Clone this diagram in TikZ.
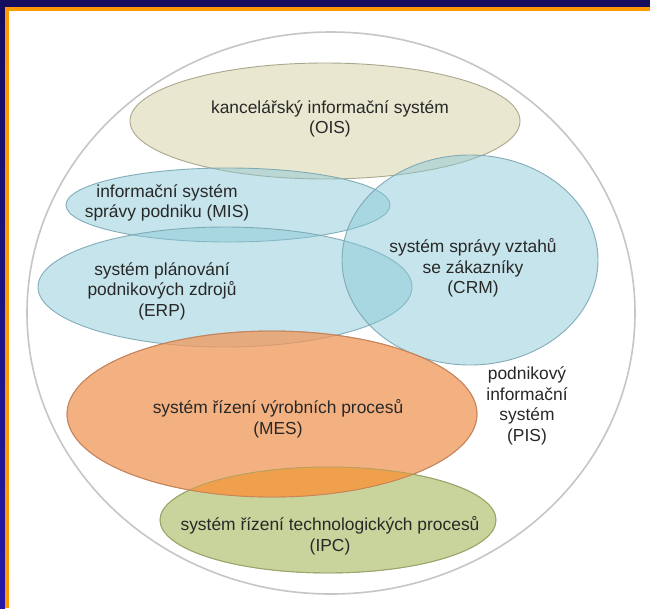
\documentclass[tikz,border=0pt]{standalone}
\usepackage{fontspec}
\setmainfont{Liberation Sans}
\definecolor{navytop}{RGB}{21,13,94}
\definecolor{navybot}{RGB}{36,26,168}
\definecolor{frameorange}{RGB}{255,153,0}
\definecolor{ringgray}{RGB}{198,198,198}
\definecolor{labelgray}{RGB}{40,40,40}
\definecolor{oisfill}{RGB}{233,231,208}
\definecolor{oisedge}{RGB}{170,168,140}
\definecolor{setblue}{RGB}{136,199,215}
\definecolor{blueedge}{RGB}{120,165,178}
\definecolor{mesfill}{RGB}{240,151,89}
\definecolor{mesedge}{RGB}{196,130,90}
\definecolor{ipcfill}{RGB}{200,212,156}
\definecolor{ipcedge}{RGB}{150,164,104}
\definecolor{mixorange}{RGB}{240,160,76}
\begin{document}
\begin{tikzpicture}[x=1pt,y=-1pt,
  lbl/.style={align=center, text=labelgray, inner sep=0pt,
    font=\fontsize{17.4}{20.5}\selectfont},
  edge/.style={line width=0.9pt},
  oisset/.style={edge, fill=oisfill, draw=oisedge},
  blueset/.style={edge, fill=setblue, fill opacity=0.48, draw=blueedge, draw opacity=0.9},
  ipcset/.style={edge, fill=ipcfill, draw=ipcedge},
  messet/.style={edge, fill=mesfill, fill opacity=0.75, draw=mesedge, draw opacity=0.85}]

% page and frame
\useasboundingbox (0,0) rectangle (650,608);
\fill[white] (0,0) rectangle (650,608);
\shade[top color=navytop, bottom color=navybot] (0,0) rectangle (5,608);
\fill[navytop] (0,0) rectangle (650,7);
\fill[frameorange] (5,7) rectangle (650,11);
\fill[frameorange] (5,7) rectangle (8.5,608);

% enterprise information system (outer set)
\draw[ringgray, line width=1.6pt] (331,313) ellipse [x radius=304, y radius=281];

% subsystems
\path[oisset]  (325,121) ellipse [x radius=195, y radius=58];
\path[blueset] (228,205) ellipse [x radius=162, y radius=37];
\path[blueset] (225,287) ellipse [x radius=187, y radius=60];
\path[blueset] (470,260) ellipse [x radius=128, y radius=105];
\path[ipcset]  (328,520) ellipse [x radius=168, y radius=53];
\path[messet]  (272,414) ellipse [x radius=205, y radius=83];

% MES and IPC overlap
\begin{scope}
  \clip (328,520) ellipse [x radius=168, y radius=53];
  \fill[mixorange] (272,414) ellipse [x radius=205, y radius=83];
\end{scope}
\draw[ipcedge, edge, draw opacity=0.6] (328,520) ellipse [x radius=168, y radius=53];
\draw[mesedge, edge, draw opacity=0.85] (272,414) ellipse [x radius=205, y radius=83];

% labels
\node[lbl] (ois) at (330,119) {kancelářský informační systém\\(OIS)};
\node[lbl] (mis) at (167,203) {informační systém\\správy podniku (MIS)};
\node[lbl] (erp) at (162,291) {systém plánování\\podnikových zdrojů\\(ERP)};
\node[lbl] (crm) at (473,268) {systém správy vztahů\\se zákazníky\\(CRM)};
\node[lbl] (mes) at (278,419) {systém řízení výrobních procesů\\(MES)};
\node[lbl] (ipc) at (330,536) {systém řízení technologických procesů\\(IPC)};
\node[lbl] (pis) at (527,406) {podnikový\\informační\\systém\\(PIS)};
\end{tikzpicture}
\end{document}
